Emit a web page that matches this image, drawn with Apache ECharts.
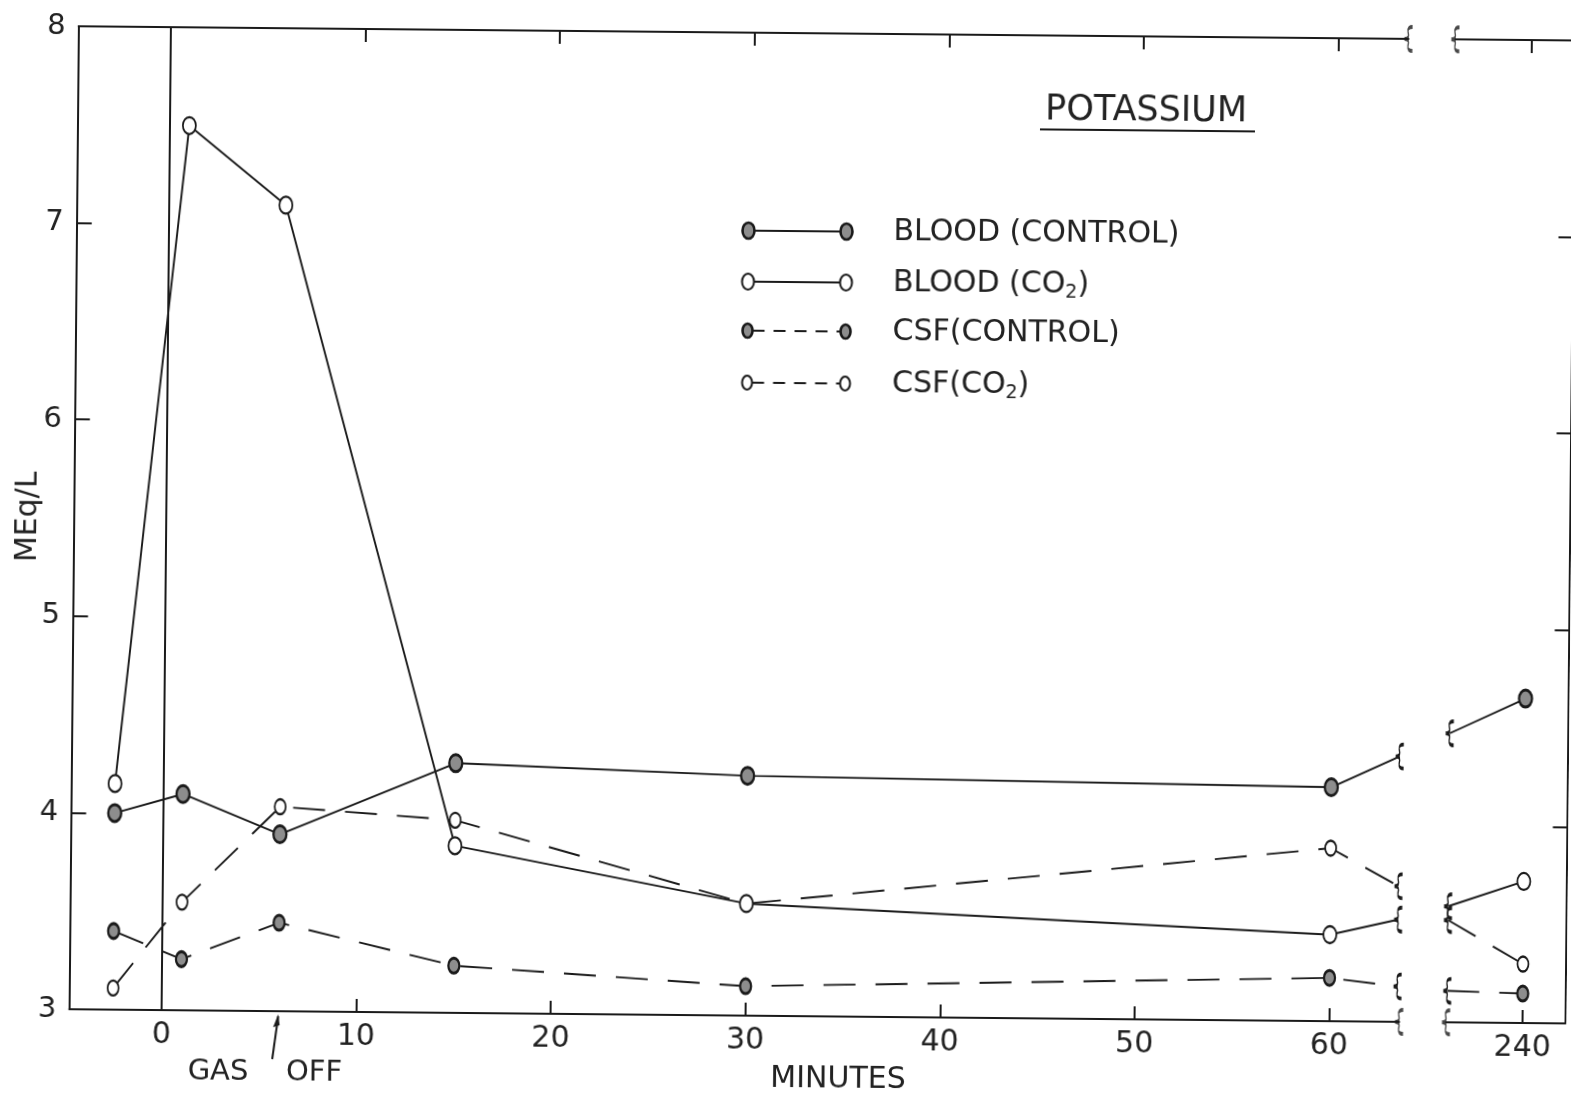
<!DOCTYPE html>
<html>
<head>
<meta charset="utf-8">
<title>Potassium</title>
<script src="https://cdn.jsdelivr.net/npm/echarts@6.0.0/dist/echarts.min.js"></script>
<style>
  html, body { margin: 0; padding: 0; background: #fff; overflow: hidden; }
  /* the plotted sheet sits with a slight clockwise tilt */
  #chart { width: 1571px; height: 1095px; transform: rotate(0.544deg); transform-origin: 50% 50%; }
</style>
</head>
<body>
<div id="chart"></div>
<script>
// Sampling times, minutes (gas switched off at 6 min)
const minutes = [-2.5, 1, 6, 15, 30, 60];
const lateMinute = 240;
const gasOffMinute = 6;

// Potassium, MEq/L
const bloodControl = [4.00, 4.10, 3.90, 4.27, 4.22, 4.19];
const bloodCO2     = [4.15, 7.50, 7.10, 3.85, 3.57, 3.44];
const csfControl   = [3.40, 3.26, 3.45, 3.24, 3.15, 3.22];
const csfCO2       = [3.11, 3.55, 4.04, 3.98, 3.57, 3.88];

// Values at 240 min, order: blood control, blood CO2, CSF control, CSF CO2
const late240 = [4.65, 3.72, 3.15, 3.30];
// Ends of the short connectors drawn either side of the time-axis break
const stubOutMinute = 63.5;
const stubInMinute = 236.1;
const stubOut = [4.35, 3.52, 3.18, 3.69];
const stubIn  = [4.47, 3.59, 3.16, 3.52];

// Axis layout
const minuteTicks = [0, 10, 20, 30, 40, 50, 60];
const lateTicks = [240];
const X_MIN = -4.74;
const BREAK_AT = 63.6;
const RESUME_AT = 236.05;
const X_MAX = 242.2;
const Y_MIN = 3, Y_MAX = 8;

const INK = '#1a1a1a';
const FONT = '"DejaVu Sans", sans-serif';
const ELLIPSE = 'path://M10,0A10,10,0,1,1,10,20A10,10,0,1,1,10,0Z';
// curly brace used at every break
const BRACE = 'path://M8,0Q3,0,3.5,5L4,9Q4,13,0,13Q4,13,4,17L3.5,21Q3,26,8,26';

function markerStyle(shaded) {
  return shaded
    ? { color: '#8d8d8d', borderColor: INK, borderWidth: 2.6 }
    : { color: '#ffffff', borderColor: INK, borderWidth: 2 };
}
function braceItem(x, y) {
  return {
    value: [x, y], symbol: BRACE, symbolSize: [8, 24], symbolKeepAspect: false,
    itemStyle: { color: 'rgba(0,0,0,0)', borderColor: INK, borderWidth: 2.2 }
  };
}

function buildSeries(name, vals, k, dashed, shaded, size) {
  const lineStyle = { color: INK, width: 1.9, type: dashed ? [32, 20] : 'solid' };
  const common = {
    name, type: 'line', symbol: ELLIPSE, symbolSize: size, showSymbol: true,
    itemStyle: markerStyle(shaded), lineStyle, silent: true, z: shaded ? 4 : 3
  };
  const early = Object.assign({}, common, {
    xAxisIndex: 0, yAxisIndex: 0,
    data: minutes.map((m, i) => [m, vals[i]]).concat([braceItem(stubOutMinute, stubOut[k])])
  });
  const late = Object.assign({}, common, {
    xAxisIndex: 2, yAxisIndex: 1,
    data: [braceItem(stubInMinute, stubIn[k]), [lateMinute, late240[k]]]
  });
  return [early, late];
}

const series = [].concat(
  buildSeries('CSF (CONTROL)', csfControl, 2, true, true, [11, 15]),
  buildSeries('CSF (CO2)', csfCO2, 3, true, false, [11, 15]),
  buildSeries('BLOOD (CONTROL)', bloodControl, 0, false, true, [13, 17]),
  buildSeries('BLOOD (CO2)', bloodCO2, 1, false, false, [13, 17])
);

// vertical line at time zero
series[4].markLine = {
  silent: true, symbol: ['none', 'none'], label: { show: false },
  lineStyle: { type: 'solid', color: INK, width: 2 },
  data: [{ xAxis: 0 }]
};

// break marks on the frame
series.push({
  type: 'scatter', xAxisIndex: 0, yAxisIndex: 0, silent: true, z: 6,
  data: [braceItem(BREAK_AT, Y_MIN), braceItem(BREAK_AT, Y_MAX)]
});
series.push({
  type: 'scatter', xAxisIndex: 2, yAxisIndex: 1, silent: true, z: 6,
  data: [braceItem(RESUME_AT, Y_MIN), braceItem(RESUME_AT, Y_MAX)]
});

const axisLine = { show: true, onZero: false, lineStyle: { color: INK, width: 2 } };
function tick(len, vals) {
  const t = { show: true, inside: true, length: len, lineStyle: { color: INK, width: 2 } };
  if (vals) t.customValues = vals;
  return t;
}
const xLabel = { fontFamily: FONT, fontSize: 30, color: '#222', margin: 10 };

const option = {
  animation: false,
  backgroundColor: '#fff',
  grid: [
    { left: 73.7, top: 33, width: 1329.9, height: 983, outerBoundsMode: 'none' },
    { left: 1450.5, top: 33, width: 119, height: 983, outerBoundsMode: 'none' }
  ],
  xAxis: [
    { gridIndex: 0, type: 'value', position: 'bottom', min: X_MIN, max: BREAK_AT,
      axisLine, axisTick: tick(13, minuteTicks),
      axisLabel: Object.assign({ customValues: minuteTicks }, xLabel), splitLine: { show: false } },
    { gridIndex: 0, type: 'value', position: 'top', min: X_MIN, max: BREAK_AT,
      axisLine, axisTick: tick(13, minuteTicks.slice(1)),
      axisLabel: { show: false }, splitLine: { show: false } },
    { gridIndex: 1, type: 'value', position: 'bottom', min: RESUME_AT, max: X_MAX,
      axisLine, axisTick: tick(13, lateTicks),
      axisLabel: Object.assign({ customValues: lateTicks }, xLabel), splitLine: { show: false } },
    { gridIndex: 1, type: 'value', position: 'top', min: RESUME_AT, max: X_MAX,
      axisLine, axisTick: tick(13, lateTicks),
      axisLabel: { show: false }, splitLine: { show: false } }
  ],
  yAxis: [
    { gridIndex: 0, type: 'value', position: 'left', min: Y_MIN, max: Y_MAX, interval: 1,
      axisLine, axisTick: tick(15),
      axisLabel: { fontFamily: FONT, fontSize: 29, color: '#222', margin: 13 },
      splitLine: { show: false } },
    { gridIndex: 1, type: 'value', position: 'right', min: Y_MIN, max: Y_MAX, interval: 1,
      axisLine, axisTick: tick(14), axisLabel: { show: false }, splitLine: { show: false } }
  ],
  series
};

const chart = echarts.init(document.getElementById('chart'), null, { renderer: 'canvas' });
chart.setOption(option);

// ---- annotations -------------------------------------------------------
function txt(text, x, y, size, extra) {
  return Object.assign({
    type: 'text', x, y, silent: true,
    style: {
      text, font: size + 'px ' + FONT, fill: '#222',
      align: 'center', verticalAlign: 'middle',
      textAlign: 'center', textVerticalAlign: 'middle'
    }
  }, extra || {});
}

const legendRows = [
  { y: 231, label: 'BLOOD (CONTROL)', shaded: true, dashed: false, rx: 6, ry: 8 },
  { y: 282, label: 'BLOOD (CO{s|2})', shaded: false, dashed: false, rx: 6, ry: 8 },
  { y: 331, label: 'CSF(CONTROL)', shaded: true, dashed: true, rx: 5, ry: 7 },
  { y: 383, label: 'CSF(CO{s|2})', shaded: false, dashed: true, rx: 5, ry: 7 }
];

const graphics = [];
legendRows.forEach(r => {
  const mk = markerStyle(r.shaded);
  const xl = 745.5, xr = 843.5;
  graphics.push({
    type: 'line', silent: true,
    shape: { x1: xl + r.rx, y1: r.y, x2: xr - r.rx, y2: r.y },
    style: { stroke: INK, lineWidth: 1.8, lineDash: r.dashed ? [12, 9] : null }
  });
  [xl, xr].forEach(cx => graphics.push({
    type: 'ellipse', silent: true, z: 10,
    shape: { cx, cy: r.y, rx: r.rx, ry: r.ry },
    style: { fill: mk.color, stroke: INK, lineWidth: mk.borderWidth }
  }));
  graphics.push({
    type: 'text', x: 890.5, y: r.y, silent: true,
    style: {
      text: r.label, font: '30px ' + FONT, fill: '#222',
      align: 'left', verticalAlign: 'middle', textAlign: 'left', textVerticalAlign: 'middle',
      rich: { s: { font: '19px ' + FONT, fontSize: 19, fontFamily: FONT, fill: '#222', padding: [16, 0, 0, 0] } }
    }
  });
});

graphics.push(txt('POTASSIUM', 1142, 108, 35));
graphics.push({
  type: 'line', silent: true,
  shape: { x1: 1036, y1: 127, x2: 1251, y2: 127 },
  style: { stroke: INK, lineWidth: 2 }
});
graphics.push(txt('MINUTES', 843, 1079, 30));
graphics.push(txt('GAS', 223, 1077, 29));
graphics.push(txt('OFF', 319, 1077, 29));
graphics.push(txt('MEq/L', 28, 524, 30, { rotation: Math.PI / 2 }));

// arrow marking the moment the gas was switched off
const tip = chart.convertToPixel({ xAxisIndex: 0, yAxisIndex: 0 }, [gasOffMinute, Y_MIN]);
const tx = tip[0], ty = tip[1] + 3;
graphics.push({
  type: 'line', silent: true,
  shape: { x1: tx - 5.6, y1: ty + 45, x2: tx, y2: ty + 2 },
  style: { stroke: INK, lineWidth: 2 }
});
graphics.push({
  type: 'polygon', silent: true,
  shape: { points: [[tx, ty], [tx - 5, ty + 13], [tx + 1.5, ty + 11]] },
  style: { fill: INK }
});

chart.setOption({ graphic: graphics });
</script>
</body>
</html>
